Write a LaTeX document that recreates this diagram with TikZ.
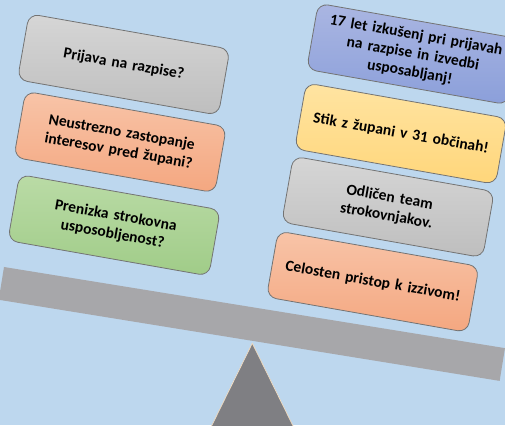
\documentclass[tikz,border=0pt]{standalone}
\usepackage{fontspec}
\setmainfont{Carlito}
\usepackage{tikz}

\definecolor{sky}{HTML}{BDD7EE}
\definecolor{beamgrey}{HTML}{A7A7AA}
\definecolor{footgrey}{HTML}{7F7F83}
\definecolor{footline}{HTML}{F2DCC0}
\definecolor{greytop}{HTML}{D6D6D6}
\definecolor{greybot}{HTML}{BEBEBE}
\definecolor{salmontop}{HTML}{F8C4A8}
\definecolor{salmonbot}{HTML}{F4A780}
\definecolor{greentop}{HTML}{BADBA6}
\definecolor{greenbot}{HTML}{A0CC88}
\definecolor{bluetop}{HTML}{AAB6E2}
\definecolor{bluebot}{HTML}{8B9FDA}
\definecolor{yellowtop}{HTML}{FFE4A2}
\definecolor{yellowbot}{HTML}{FFD67A}

\begin{document}
\begin{tikzpicture}[x=1pt,y=1pt,
  card/.style={draw=black!55, line width=0.8pt, rounded corners=10pt,
    minimum width=204pt, minimum height=67pt, text width=192pt, inner sep=0pt,
    align=center, font=\bfseries\fontsize{15.5}{18.7}\selectfont},
  greycard/.style={card, top color=greytop, bottom color=greybot},
  salmoncard/.style={card, top color=salmontop, bottom color=salmonbot},
  greencard/.style={card, top color=greentop, bottom color=greenbot},
  bluecard/.style={card, top color=bluetop, bottom color=bluebot},
  yellowcard/.style={card, top color=yellowtop, bottom color=yellowbot}]
\useasboundingbox (0,0) rectangle (505,425);
\clip (0,0) rectangle (505,425);
\fill[sky] (0,0) rectangle (505,425);

% lever
\fill[beamgrey] (4,158) -- ++(-9.2:507.5) -- ++(-99.2:33.2) -- ++(170.8:507.5) -- cycle;
\filldraw[fill=footgrey, draw=footline, line width=0.7pt] (252.3,81.7) -- (202.2,-20) -- (302.4,-20) -- cycle;

\begin{scope}[shift={(0,425)}, rotate=-10, transform shape]
% left side
\node[greycard]   (prijava)  at (133,-42)    {Prijava na razpise?};
\node[salmoncard] (zastop)   at (143,-119)   {Neustrezno zastopanje\\interesov pred župani?};
\node[greencard]  (znanje)   at (151.5,-202) {Prenizka strokovna\\usposobljenost?};
% right side
\node[bluecard]   (izkusnje) at (416,18.5)   {17 let izkušenj pri prijavah\\na razpise in izvedbi\\usposabljanj!};
\node[yellowcard] (stik)     at (418,-62)    {Stik z župani v 31 občinah!};
\node[greycard]   (team)     at (418,-136.4) {Odličen team\\strokovnjakov.};
\node[salmoncard] (pristop)  at (416,-212.7) {Celosten pristop k izzivom!};
\end{scope}

\end{tikzpicture}
\end{document}
